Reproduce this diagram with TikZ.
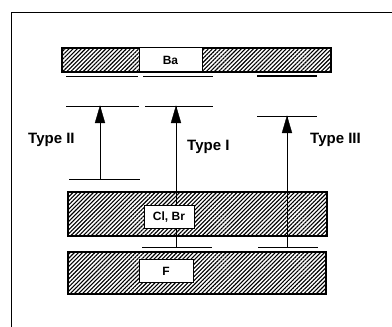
\documentclass[tikz,border=0pt]{standalone}
\usepackage{fontspec}
\setmainfont{Liberation Sans}
\usetikzlibrary{patterns.meta}

\tikzset{
  band/.style={draw, line width=1.2pt, pattern color=black, pattern={Lines[angle=45,distance=2.9pt,line width=1.1pt]}},
  tag/.style={draw, line width=1pt, fill=white, inner sep=0pt, font=\bfseries\fontsize{12}{12}\selectfont},
  level/.style={line width=0.9pt},
  excite/.style={line width=0.8pt},
  tiphead/.style={fill=black, draw=black, line width=0.3pt, line join=miter},
  typelab/.style={anchor=base west, inner sep=0pt, font=\bfseries\fontsize{15}{15}\selectfont}
}

\begin{document}
\begin{tikzpicture}[x=1pt,y=1pt]
    \useasboundingbox (0,0) rectangle (392,327);
    % frame
    \draw[line width=0.8pt] (11,0) -- (11,315) -- (392,315);

    % hatched bands
    \draw[band] (62,255) rectangle (331,279);
    \draw[band] (68,91) rectangle (327,135);
    \draw[band] (68,33) rectangle (326,75);
    \draw[line width=1.8pt] (68,75) -- (326,75);

    % levels
    \draw[level] (66,251) -- (138,251);
    \draw[level] (143,251) -- (213,251);
    \draw[level, line width=1.3pt] (257,251) -- (317,251);
    \draw[level] (66,221) -- (139,221);
    \draw[level] (145,221) -- (213,221);
    \draw[level] (257,211) -- (317,211);
    \draw[level] (69,148) -- (140,148);
    \draw[level] (142,80) -- (212,80);
    \draw[level] (258,80) -- (318,80);

    % transitions
    \coordinate (t2lo) at (100,148);
    \coordinate (t2hi) at (100,221);
    \coordinate (t1lo) at (176,80);
    \coordinate (t1hi) at (176,221);
    \coordinate (t3lo) at (287,80);
    \coordinate (t3hi) at (287,211);
    \foreach \lo/\hi in {t2lo/t2hi, t1lo/t1hi, t3lo/t3hi} {
        \draw[excite] (\lo) -- (\hi);
        \filldraw[tiphead] (\hi) -- ++(-5,-17) -- ++(10,0) -- cycle;
    }

    % ion boxes
    \node[tag, minimum width=63pt, minimum height=24pt] (ba) at (170.5,267) {Ba};
    \node[tag, minimum width=50pt, minimum height=23pt] (clbr) at (169,109.5) {Cl, Br};
    \node[tag, minimum width=54pt, minimum height=23pt] (f) at (166,55.5) {F};

    % labels
    \node[typelab] (type2) at (28,183) {Type II};
    \node[typelab] (type1) at (187,176) {Type I};
    \node[typelab] (type3) at (310,183) {Type III};
\end{tikzpicture}
\end{document}
